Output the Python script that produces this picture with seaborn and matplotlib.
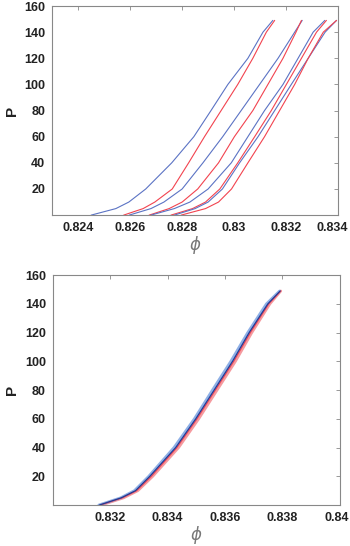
import numpy as np
import pandas as pd
import matplotlib
matplotlib.use('Agg')
import matplotlib.pyplot as plt
import matplotlib.transforms as mtransforms
import seaborn as sns

# pressure levels used for the read-off points
P_top = [0, 5, 10, 20, 40, 60, 80, 100, 120, 140, 149]

# top panel: four blue/red pairs
blue1 = [0.82450, 0.82545, 0.82595, 0.82660, 0.82760, 0.82845, 0.82911, 0.82976, 0.83053, 0.83111, 0.83149]
red1 = [0.82575, 0.82650, 0.82695, 0.82762, 0.82825, 0.82886, 0.82950, 0.83014, 0.83072, 0.83124, 0.83156]
blue2 = [0.82596, 0.82680, 0.82730, 0.82800, 0.82880, 0.82956, 0.83027, 0.83098, 0.83169, 0.83233, 0.83262]
red2 = [0.82673, 0.82750, 0.82800, 0.82860, 0.82940, 0.83001, 0.83072, 0.83130, 0.83188, 0.83238, 0.83259]
blue3 = [0.82680, 0.82770, 0.82830, 0.82900, 0.82989, 0.83053, 0.83117, 0.83188, 0.83246, 0.83304, 0.83349]
red3 = [0.82757, 0.82840, 0.82890, 0.82945, 0.83014, 0.83079, 0.83143, 0.83201, 0.83259, 0.83317, 0.83355]
blue4 = [0.82770, 0.82850, 0.82900, 0.82955, 0.83021, 0.83092, 0.83156, 0.83220, 0.83285, 0.83350, 0.83394]
red4 = [0.82796, 0.82890, 0.82940, 0.82990, 0.83053, 0.83117, 0.83175, 0.83233, 0.83285, 0.83343, 0.83394]

# bottom panel: nearly overlapping curves
P_bot = [0, 5, 10, 20, 40, 60, 80, 100, 120, 140, 149]
bot_lightblue = [0.83160, 0.83236, 0.83284, 0.83334, 0.83422, 0.83493, 0.83556, 0.83620, 0.83679, 0.83744, 0.83790]
bot_lightred = [0.83168, 0.83246, 0.83296, 0.83348, 0.83438, 0.83508, 0.83572, 0.83636, 0.83693, 0.83756, 0.83794]
bot_blue = [0.83162, 0.83238, 0.83288, 0.83338, 0.83428, 0.83498, 0.83562, 0.83626, 0.83684, 0.83749, 0.83792]
bot_red = [0.83165, 0.83242, 0.83292, 0.83343, 0.83432, 0.83502, 0.83566, 0.83630, 0.83688, 0.83752, 0.83794]

xt_top = [0.824, 0.826, 0.828, 0.830, 0.832, 0.834]
xt_top_lab = ['0.824', '0.826', '0.828', '0.83', '0.832', '0.834']
xt_bot = [0.832, 0.834, 0.836, 0.838, 0.840]
xt_bot_lab = ['0.832', '0.834', '0.836', '0.838', '0.84']
yt = [20, 40, 60, 80, 100, 120, 140, 160]

BLUE = '#5b73c4'
RED = '#f2434f'

sns.set_style('white')
plt.rcParams['font.family'] = ['Liberation Sans', 'DejaVu Sans']
plt.rcParams['mathtext.fontset'] = 'dejavusans'

fig = plt.figure(figsize=(3.5, 5.46), dpi=100)
ax1 = fig.add_axes([0.149, 0.606, 0.817, 0.383])
ax2 = fig.add_axes([0.151, 0.075, 0.820, 0.421])


def draw(ax, x, y, color, lw, alpha=1.0):
    df = pd.DataFrame({'phi': x, 'P': y})
    sns.lineplot(data=df, x='phi', y='P', color=color, lw=lw, alpha=alpha,
                 estimator=None, sort=False, ax=ax)


for b, r in [(blue1, red1), (blue2, red2), (blue3, red3), (blue4, red4)]:
    draw(ax1, b, P_top, BLUE, 0.8)
    draw(ax1, r, P_top, RED, 0.8)

draw(ax2, bot_lightred, P_bot, '#f59a9f', 2.0)
draw(ax2, bot_lightblue, P_bot, '#8fb0e6', 2.0)
draw(ax2, bot_red, P_bot, RED, 0.9)
draw(ax2, bot_blue, P_bot, '#1f3b96', 0.9)

for ax, xlim, xt, xl, shift in [(ax1, (0.823, 0.834), xt_top, xt_top_lab, -6),
                                (ax2, (0.830, 0.840), xt_bot, xt_bot_lab, -3)]:
    ax.set_xlim(*xlim)
    ax.set_ylim(0, 160)
    ax.set_xticks(xt)
    ax.set_xticklabels(xl)
    ax.set_yticks(yt)
    ax.tick_params(direction='in', top=True, right=True, length=3, width=0.6,
                   colors='#888888', labelcolor='#222222', labelsize=9, pad=5)
    for lab in ax.get_xticklabels() + ax.get_yticklabels():
        lab.set_fontweight('bold')
    # last x label sits a little inside the figure edge, as in the original
    last = ax.get_xticklabels()[-1]
    last.set_transform(last.get_transform() +
                       mtransforms.ScaledTranslation(shift / 100, 0, fig.dpi_scale_trans))
    for s in ax.spines.values():
        s.set_color('#888888')
        s.set_linewidth(0.8)
    ax.set_xlabel(r'$\phi$', color='#777777', fontsize=12, labelpad=0)
    ax.set_ylabel('P', fontsize=11, fontweight='bold', color='#222222', labelpad=4)

fig.savefig('out.png', dpi=100)
